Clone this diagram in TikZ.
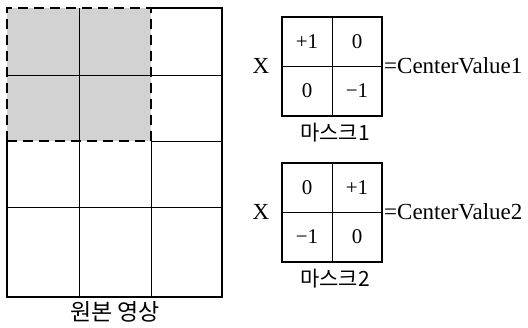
\documentclass[tikz,border=0pt]{standalone}
\usepackage{fontspec}
\setmainfont{Liberation Serif}
\newfontfamily\krfont{Noto Sans CJK KR}

\begin{document}
\begin{tikzpicture}[x=1pt, y=-1pt, font=\fontsize{23}{26}\selectfont,
          frame/.style={line width=1.8pt},
          cellline/.style={line width=0.7pt},
          cut/.style={line width=2.2pt, dash pattern=on 10pt off 6pt},
          cellnum/.style={inner sep=0pt, font=\fontsize{21}{24}\selectfont},
          lbl/.style={inner sep=0pt}]
        \useasboundingbox (0,0) rectangle (528,327);
        % original image: 3 x 4 blocks, the 2 x 2 window shaded
        \fill[gray!35] (7,8) rectangle (151,141);
        \draw[cellline] (79,8) -- (79,297);
        \draw[cellline] (151,141) -- (151,297);
        \draw[cellline] (7,75) -- (222,75);
        \draw[cellline] (151,141) -- (222,141);
        \draw[cellline] (7,207) -- (222,207);
        \draw[frame] (151,8) -- (222,8) -- (222,297) -- (7,297) -- (7,141);
        \draw[cut] (7,141) -- (7,8) -- (151,8) -- (151,141) -- cycle;
        \node[lbl, font=\krfont\fontsize{23}{26}\selectfont] (orig) at (115,312) {원본 영상};
        % the two masks
        \foreach \i/\top/\a/\b/\c/\d in {1/17/+1/0/0/−1, 2/163/0/+1/−1/0} {
          \draw[frame] (282,\top) rectangle (382,\top+99);
          \draw[cellline] (332,\top) -- (332,\top+99);
          \draw[cellline] (282,\top+49) -- (382,\top+49);
          \node[cellnum] (m\i a) at (307,\top+25) {\a};
          \node[cellnum] (m\i b) at (357,\top+25) {\b};
          \node[cellnum] (m\i c) at (307,\top+74) {\c};
          \node[cellnum] (m\i d) at (357,\top+74) {\d};
          \node[lbl] (x\i) at (261,\top+49) {X};
          \node[lbl, anchor=west] (cv\i) at (384,\top+49) {=CenterValue\i};
          \node[lbl, font=\krfont\fontsize{21}{24}\selectfont] (name\i) at (335,\top+116) {마스크\i};
        }
      \end{tikzpicture}
\end{document}
